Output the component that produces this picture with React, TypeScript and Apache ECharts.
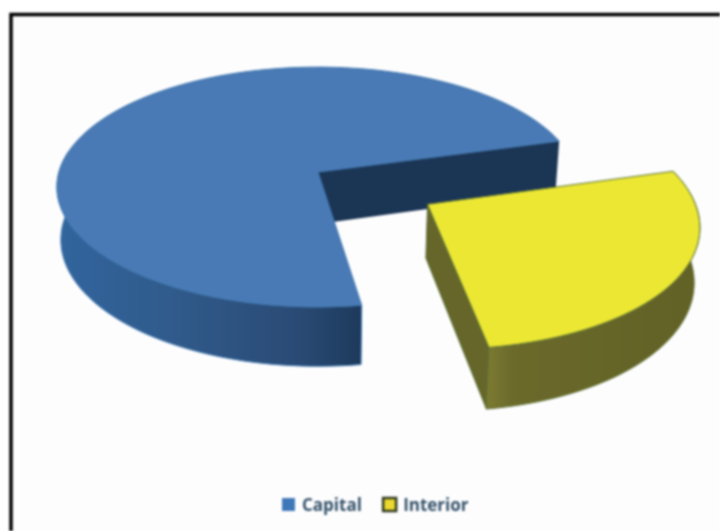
import React, { useEffect, useRef } from "react";
import * as echarts from "echarts";

const categories = ["Capital", "Interior"];
const shares = [73, 27];
const pullOut = [0, 0.487];

const startDeg = 15.7;
const view = { cx: 318, cy: 172, a: 259, b: 118, k: 0.125, h: 52, shrink: 0.985 };

function project(u: number, v: number, low: boolean): [number, number] {
  const w = 1 + view.k * v;
  const s = low ? view.shrink : 1;
  const x = view.cx + (view.a * u * s) / w;
  const y = view.cy - (view.b * v) / w + (low ? view.h / w : 0);
  return [x, y];
}

const total = shares.reduce((s, v) => s + v, 0);

function arc(from: number, to: number, ox: number, oy: number, low: boolean) {
  const pts: [number, number][] = [];
  const n = Math.max(2, Math.ceil(Math.abs(to - from) / 2));
  for (let i = 0; i <= n; i++) {
    const t = ((from + ((to - from) * i) / n) * Math.PI) / 180;
    pts.push(project(Math.cos(t) + ox, Math.sin(t) + oy, low));
  }
  return pts;
}

function sliceItem(index: number, styles: any) {
  return (_: any, api: any) => {
    const value = api.value(0) as number;
    const before = shares.slice(0, index).reduce((s, v) => s + v, 0);
    const a0 = startDeg + (before / total) * 360;
    const a1 = a0 + (value / total) * 360;
    const mid = ((a0 + a1) / 2) * (Math.PI / 180);
    const ox = Math.cos(mid) * pullOut[index];
    const oy = Math.sin(mid) * pullOut[index];
    const hub = project(ox, oy, false);
    const hubLow = project(ox, oy, true);
    const top = arc(a0, a1, ox, oy, false);
    const first = top[0];
    const firstLow = arc(a0, a0, ox, oy, true)[0];
    const wf = index === 0 ? Math.max(a0, 170) : a0;
    const outer = [...arc(wf, a1, ox, oy, false), ...arc(a1, wf, ox, oy, true)];
    const children: any[] = [];
    children.push({
      type: "polygon",
      shape: { points: [hub, first, firstLow, hubLow] },
      style: index === 0 ? { fill: styles.back } : { fill: styles.back, stroke: styles.edge, lineWidth: 1 },
    });
    children.push({ type: "polygon", shape: { points: outer }, style: { fill: styles.wall, stroke: styles.edge, lineWidth: 1 } });
    children.push({ type: "polygon", shape: { points: [hub, ...top] }, style: { fill: styles.top, stroke: styles.edge, lineWidth: 1 } });
    return { type: "group", children };
  };
}

const blueWall = new echarts.graphic.LinearGradient(0, 0, 1, 0, [
  { offset: 0, color: "#32659e" },
  { offset: 0.4, color: "#305a8a" },
  { offset: 0.8, color: "#2a4a74" },
  { offset: 1, color: "#1d3a5c" },
]);
const yellowWall = new echarts.graphic.LinearGradient(0, 0, 1, 0, [
  { offset: 0, color: "#7d7b31" },
  { offset: 0.12, color: "#6b6a2b" },
  { offset: 1, color: "#626126" },
]);

export default function App() {
  const ref = useRef<HTMLDivElement>(null);
  useEffect(() => {
    document.body.style.margin = "0";
    const chart = echarts.init(ref.current!, null, { renderer: "svg" });
    chart.setOption({
      animation: false,
      backgroundColor: "#ffffff",
      graphic: [
        {
          type: "rect",
          z: -1,
          shape: { x: 11, y: 14.5, width: 800, height: 600 },
          style: { fill: "#fdfdfe", stroke: "#000000", lineWidth: 3.5 },
        },
      ],
      legend: {
        show: true,
        left: 277,
        top: 491,
        itemWidth: 13,
        itemHeight: 13,
        itemGap: 20,
        selectedMode: false,
        textStyle: { fontFamily: "Open Sans", fontSize: 17, fontWeight: "bold", color: "#34526a", padding: [0, 0, 0, 2] },
        data: [
          { name: categories[0], icon: "rect", itemStyle: { color: "#3f78b8", borderWidth: 0 } },
          { name: categories[1], icon: "rect", itemStyle: { color: "#ecd92f", borderColor: "#2f3a20", borderWidth: 2.5 } },
        ],
      },
      series: [
        {
          type: "custom",
          name: categories[0],
          coordinateSystem: "none",
          silent: true,
          data: [[shares[0]]],
          renderItem: sliceItem(0, { top: "#4a7ab5", back: "#1b3555", wall: blueWall, edge: "#3f78b0" }),
        },
        {
          type: "custom",
          name: categories[1],
          coordinateSystem: "none",
          silent: true,
          data: [[shares[1]]],
          renderItem: sliceItem(1, { top: "#ece733", back: "#66652a", wall: yellowWall, edge: "#5d7434" }),
        },
      ],
    });
    return () => chart.dispose();
  }, []);
  return <div ref={ref} style={{ position: "absolute", left: 0, top: 0, width: 720, height: 531, filter: "blur(0.8px)" }} />;
}
